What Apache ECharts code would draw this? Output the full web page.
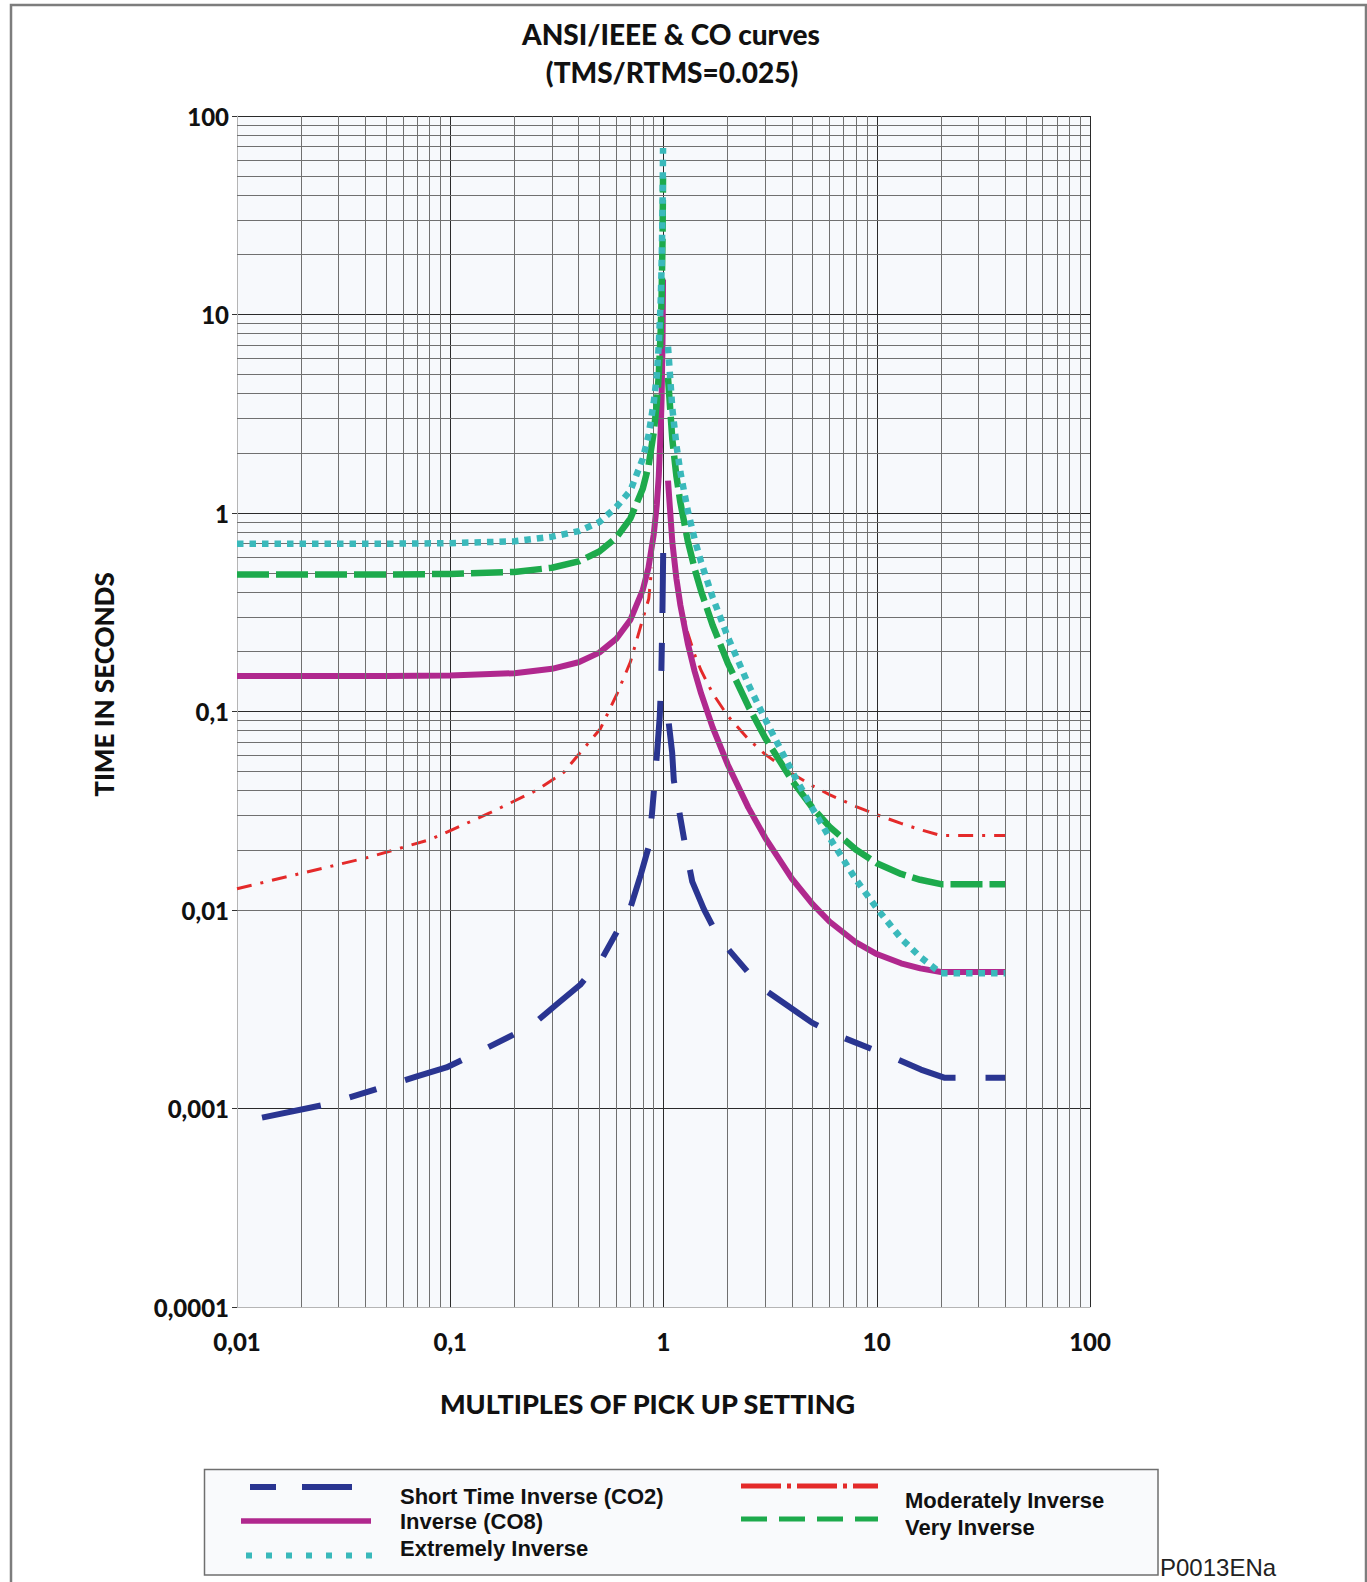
<!DOCTYPE html>
<html>
<head>
<meta charset="utf-8">
<title>ANSI/IEEE &amp; CO curves</title>
<script src="https://cdn.jsdelivr.net/npm/echarts@6/dist/echarts.min.js"></script>
<style>
  html, body { margin: 0; padding: 0; background: #ffffff; }
  #chart { width: 1367px; height: 1582px; }
</style>
</head>
<body>
<div id="chart"></div>
<script>
// Tick labels (decimal comma)
const xTickLabels = ['0,01', '0,1', '1', '10', '100'];
const yTickLabels = ['0,0001', '0,001', '0,01', '0,1', '1', '10', '100'];

// Reset branches (multiples below 1) shared by Very / Extremely / Inverse (CO8)
const resetM = [0.01, 0.05, 0.1, 0.2, 0.3, 0.4, 0.5, 0.6, 0.7, 0.8, 0.85, 0.9, 0.93, 0.95, 0.97, 0.98, 0.99, 0.995];
const veryResetT = [0.49, 0.49, 0.493, 0.505, 0.53, 0.57, 0.64, 0.75, 0.94, 1.33, 1.72, 2.55, 3.55, 4.95, 8.2, 12.3, 24.5, 49];
const extremelyResetT = [0.70, 0.70, 0.705, 0.72, 0.76, 0.81, 0.90, 1.07, 1.30, 1.88, 2.45, 3.6, 4.9, 7.0, 11.5, 17.5, 35, 69];
const inverseResetT = [0.151, 0.151, 0.152, 0.156, 0.164, 0.177, 0.198, 0.232, 0.29, 0.41, 0.53, 0.78, 1.1, 1.53, 2.6, 3.8, 7.6, 15];

// Trip branches (multiples above 1)
const tripM = [1.05, 1.1, 1.15, 1.2, 1.3, 1.4, 1.5, 1.7, 2, 2.5, 3, 4, 5, 6, 8, 10, 13, 16, 20, 40];
const veryTripT = [4.8, 2.35, 1.53, 1.13, 0.723, 0.523, 0.405, 0.272, 0.176, 0.106, 0.0736, 0.045, 0.0327, 0.0263, 0.0201, 0.0172, 0.0152, 0.0142, 0.0135, 0.0135];
const extremelyTripT = [6.88, 3.36, 2.19, 1.605, 1.025, 0.737, 0.567, 0.376, 0.238, 0.137, 0.0912, 0.050, 0.0324, 0.0232, 0.0142, 0.0102, 0.0072, 0.0058, 0.0048, 0.0048];
const inverseTripT = [1.456, 0.713, 0.466, 0.343, 0.220, 0.159, 0.1235, 0.0832, 0.0541, 0.0328, 0.0231, 0.0144, 0.0107, 0.00875, 0.00686, 0.0060, 0.00539, 0.00508, 0.00487, 0.00487];
const moderateTripT = [1.32, 0.678, 0.463, 0.355, 0.248, 0.1935, 0.161, 0.1235, 0.0951, 0.0725, 0.0608, 0.0487, 0.0422, 0.0381, 0.0332, 0.0302, 0.0273, 0.0254, 0.0237, 0.0237];

// Moderately Inverse, lower branch
const moderateResetM = [0.01, 0.019, 0.042, 0.081, 0.154, 0.255, 0.34, 0.506, 0.606, 0.70, 0.78, 0.853, 0.88];
const moderateResetT = [0.0128, 0.0151, 0.0185, 0.0227, 0.0309, 0.0402, 0.0493, 0.0819, 0.123, 0.178, 0.267, 0.37, 0.53];

// Short Time Inverse (CO2)
const shortResetM = [0.0131, 0.0264, 0.0495, 0.071, 0.096, 0.133, 0.242, 0.317, 0.407, 0.515, 0.70, 0.78, 0.853, 0.884, 0.934, 0.96, 0.975, 0.988, 0.996, 0.999];
const shortResetT = [0.0009, 0.00105, 0.00129, 0.00146, 0.00161, 0.0019, 0.00263, 0.00336, 0.0042, 0.0057, 0.0103, 0.0149, 0.0209, 0.031, 0.063, 0.094, 0.14, 0.3, 0.6, 0.87];
const shortTripM = [1.059, 1.098, 1.118, 1.268, 1.364, 1.546, 1.818, 2.854, 3.81, 4.99, 6.78, 12.06, 16.1, 20.7, 40];
const shortTripT = [0.087, 0.062, 0.045, 0.0207, 0.0139, 0.0101, 0.0072, 0.0041, 0.0033, 0.0027, 0.0023, 0.0018, 0.00157, 0.00143, 0.00143];

const COLORS = {
  short: '#2a3591',
  inverse: '#b0288e',
  extremely: '#3ab9bb',
  moderate: '#e42a2a',
  very: '#1daa4c'
};

function pairs(ms, ts) { return ms.map((m, i) => [m, ts[i]]); }

// Intermediate log grid values 2..9 in every decade
function minorValues(minExp, maxExp) {
  const out = [];
  for (let e = minExp; e < maxExp; e++) {
    for (let k = 2; k <= 9; k++) out.push(+(k * Math.pow(10, e)).toPrecision(3));
  }
  return out;
}

function curve(name, data, color, width, dash, z) {
  return {
    type: 'line', name: name, data: data,
    symbol: 'none', showSymbol: false, silent: true, animation: false,
    z: z, clip: true,
    lineStyle: { color: color, width: width, type: dash, cap: 'butt', join: 'round' }
  };
}

const LABEL_FONT = 'Lato';
const HEAVY = 900;
const dashShort = [60, 30, 28, 30];
const dashVery = [32, 7];
const dashExtreme = [6.5, 6];
const dashModerate = [15, 9, 3, 9];
const LEGEND_FONT = 'bold 22px "Liberation Sans"';

const chart = echarts.init(document.getElementById('chart'), null, { renderer: 'svg', width: 1367, height: 1582 });

const option = {
  backgroundColor: '#ffffff',
  animation: false,
  grid: {
    left: 237, right: 277, top: 116, bottom: 275,
    show: true, backgroundColor: '#f7f9fc', borderWidth: 0
  },
  xAxis: {
    type: 'log', logBase: 10, min: 0.01, max: 100, splitNumber: 4,
    name: 'MULTIPLES OF PICK UP SETTING', nameLocation: 'middle', nameGap: 83,
    nameTextStyle: { fontFamily: LABEL_FONT, fontWeight: HEAVY, fontSize: 27, color: '#111',
                     padding: [0, 32, 0, 0] },
    axisLine: { show: true, lineStyle: { color: '#b5b5b5', width: 1 } },
    axisTick: { show: false },
    axisLabel: {
      margin: 22, fontFamily: LABEL_FONT, fontWeight: HEAVY, fontSize: 24, color: '#111',
      formatter: v => xTickLabels[Math.round(Math.log10(v)) + 2]
    },
    splitLine: { show: true, showMinLine: false, lineStyle: { color: '#2a2a2a', width: 1 } }
  },
  yAxis: {
    type: 'log', logBase: 10, min: 0.0001, max: 100, splitNumber: 6,
    name: 'TIME IN SECONDS', nameLocation: 'middle', nameGap: 120, nameRotate: 90,
    nameTextStyle: { fontFamily: LABEL_FONT, fontWeight: HEAVY, fontSize: 26, color: '#111',
                     padding: [0, 0, 0, 54] },
    axisLine: { show: true, lineStyle: { color: '#b5b5b5', width: 1 } },
    axisTick: { show: true, inside: false, length: 5, lineStyle: { color: '#333', width: 1 } },
    axisLabel: {
      margin: 8, fontFamily: LABEL_FONT, fontWeight: HEAVY, fontSize: 24, color: '#111',
      formatter: v => yTickLabels[Math.round(Math.log10(v)) + 4]
    },
    splitLine: { show: true, showMinLine: false, lineStyle: { color: '#2a2a2a', width: 1 } }
  },
  series: [
    {
      type: 'line', data: [[1, 1]], symbol: 'none', silent: true, z: 1,
      lineStyle: { opacity: 0 },
      markLine: {
        silent: true, symbol: ['none', 'none'], animation: false,
        label: { show: false },
        emphasis: { disabled: true },
        lineStyle: { color: '#707070', width: 1, type: 'solid' },
        data: [
          ...minorValues(-2, 2).map(v => ({ xAxis: v })),
          ...minorValues(-4, 2).map(v => ({ yAxis: v }))
        ]
      }
    },
    curve('Moderately Inverse', pairs(moderateResetM, moderateResetT), COLORS.moderate, 3, dashModerate, 3),
    curve('Moderately Inverse', pairs(tripM, moderateTripT), COLORS.moderate, 3, dashModerate, 3),
    curve('Inverse (CO8)', pairs(resetM, inverseResetT), COLORS.inverse, 6, 'solid', 4),
    curve('Inverse (CO8)', pairs(tripM, inverseTripT), COLORS.inverse, 6, 'solid', 4),
    curve('Short Time Inverse (CO2)', pairs(shortResetM, shortResetT), COLORS.short, 6, dashShort, 5),
    curve('Short Time Inverse (CO2)', pairs(shortTripM, shortTripT), COLORS.short, 6, dashShort, 5),
    curve('Very Inverse', pairs(resetM, veryResetT), COLORS.very, 6.5, dashVery, 6),
    curve('Very Inverse', pairs(tripM, veryTripT), COLORS.very, 6.5, dashVery, 6),
    curve('Extremely Inverse', pairs(resetM, extremelyResetT), COLORS.extremely, 6.5, dashExtreme, 7),
    curve('Extremely Inverse', pairs(tripM, extremelyTripT), COLORS.extremely, 6.5, dashExtreme, 7)
  ],
  graphic: [
    // outer frame
    { type: 'rect', silent: true, z: 0, shape: { x: 11, y: 5, width: 1355, height: 1595 },
      style: { fill: 'none', stroke: '#7d7d7d', lineWidth: 2.5 } },
    // titles
    { type: 'text', silent: true, x: 671, y: 34,
      style: { text: 'ANSI/IEEE & CO curves', font: '900 28px Lato', fill: '#111',
               textAlign: 'center', textVerticalAlign: 'middle', align: 'center', verticalAlign: 'middle' } },
    { type: 'text', silent: true, x: 672, y: 72,
      style: { text: '(TMS/RTMS=0.025)', font: '900 28px Lato', fill: '#111',
               textAlign: 'center', textVerticalAlign: 'middle', align: 'center', verticalAlign: 'middle' } },
    // legend box
    { type: 'rect', silent: true, shape: { x: 204.5, y: 1469.5, width: 953.5, height: 105.5 },
      style: { fill: '#f9fafc', stroke: '#6f6f6f', lineWidth: 1.5 } },
    { type: 'line', silent: true, shape: { x1: 250, y1: 1487, x2: 276, y2: 1487 },
      style: { stroke: COLORS.short, lineWidth: 6 } },
    { type: 'line', silent: true, shape: { x1: 302, y1: 1487, x2: 352, y2: 1487 },
      style: { stroke: COLORS.short, lineWidth: 6 } },
    { type: 'line', silent: true, shape: { x1: 241, y1: 1521, x2: 371, y2: 1521 },
      style: { stroke: COLORS.inverse, lineWidth: 5.5 } },
    { type: 'line', silent: true, shape: { x1: 246, y1: 1555.5, x2: 372, y2: 1555.5 },
      style: { stroke: COLORS.extremely, lineWidth: 6, lineDash: [6, 14] } },
    { type: 'line', silent: true, shape: { x1: 741, y1: 1486, x2: 878, y2: 1486 },
      style: { stroke: COLORS.moderate, lineWidth: 5, lineDash: [40, 6, 4, 6] } },
    { type: 'line', silent: true, shape: { x1: 741, y1: 1519, x2: 878, y2: 1519 },
      style: { stroke: COLORS.very, lineWidth: 5, lineDash: [26, 12] } },
    { type: 'text', silent: true, x: 400, y: 1496,
      style: { text: 'Short Time Inverse (CO2)', font: LEGEND_FONT, fill: '#111',
               textVerticalAlign: 'middle', verticalAlign: 'middle' } },
    { type: 'text', silent: true, x: 400, y: 1521,
      style: { text: 'Inverse (CO8)', font: LEGEND_FONT, fill: '#111',
               textVerticalAlign: 'middle', verticalAlign: 'middle' } },
    { type: 'text', silent: true, x: 400, y: 1548,
      style: { text: 'Extremely Inverse', font: LEGEND_FONT, fill: '#111',
               textVerticalAlign: 'middle', verticalAlign: 'middle' } },
    { type: 'text', silent: true, x: 905, y: 1500,
      style: { text: 'Moderately Inverse', font: LEGEND_FONT, fill: '#111',
               textVerticalAlign: 'middle', verticalAlign: 'middle' } },
    { type: 'text', silent: true, x: 905, y: 1527,
      style: { text: 'Very Inverse', font: LEGEND_FONT, fill: '#111',
               textVerticalAlign: 'middle', verticalAlign: 'middle' } },
    { type: 'text', silent: true, x: 1160, y: 1567,
      style: { text: 'P0013ENa', font: '24px "Liberation Sans"', fill: '#222',
               textVerticalAlign: 'middle', verticalAlign: 'middle' } }
  ]
};

chart.setOption(option);
</script>
</body>
</html>
